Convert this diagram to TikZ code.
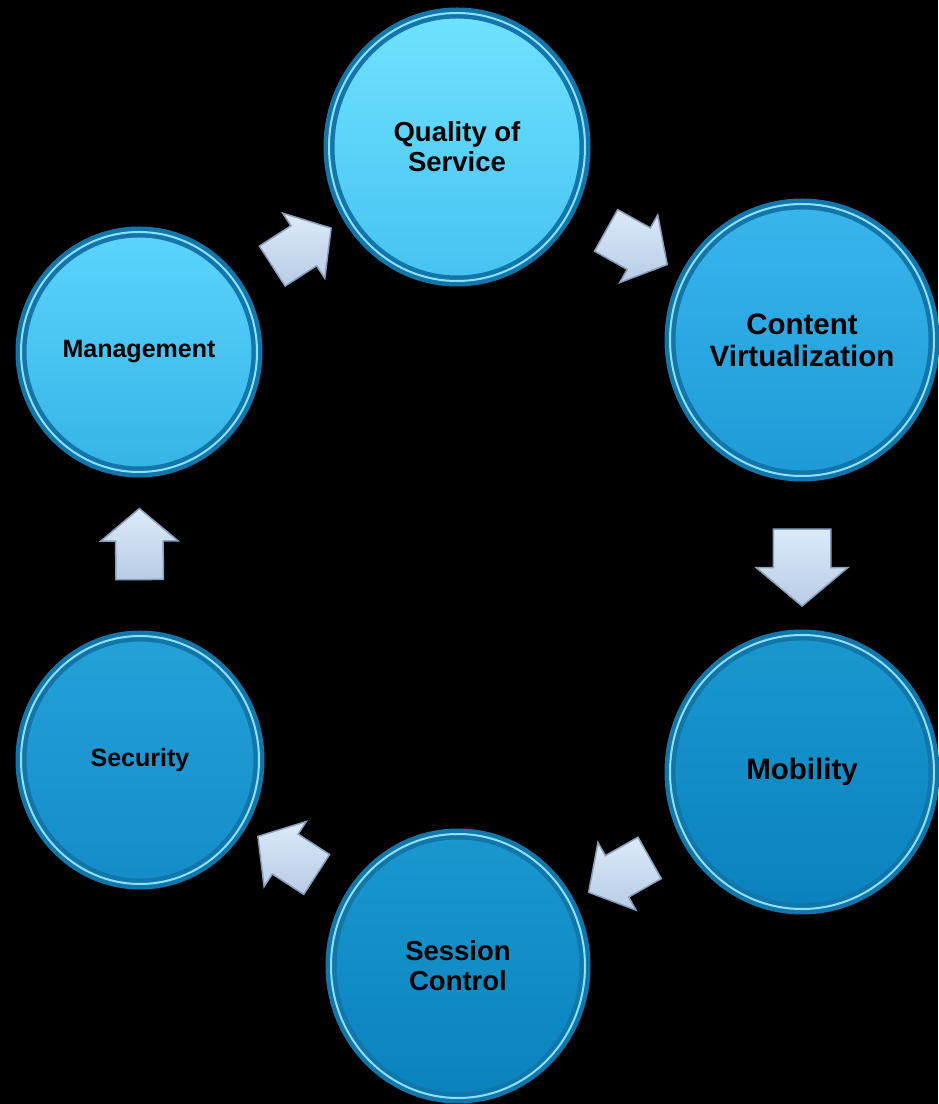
\documentclass[tikz,border=0pt]{standalone}
\usepackage{fontspec}
\setsansfont{Liberation Sans}
\usepackage{tikz}
\usetikzlibrary{shapes,arrows}
\definecolor{ringdark}{RGB}{18,118,170}
\definecolor{ringlight}{RGB}{140,226,252}
\definecolor{arrowtop}{RGB}{220,234,250}
\definecolor{arrowbottom}{RGB}{184,204,228}
\definecolor{arrowedge}{RGB}{138,160,188}
\definecolor{qualitytop}{RGB}{112,226,255}
\definecolor{qualitybottom}{RGB}{70,194,240}
\definecolor{managetop}{RGB}{92,212,252}
\definecolor{managebottom}{RGB}{52,180,230}
\definecolor{contenttop}{RGB}{56,182,236}
\definecolor{contentbottom}{RGB}{30,154,214}
\definecolor{securitytop}{RGB}{36,162,216}
\definecolor{securitybottom}{RGB}{20,140,200}
\definecolor{mobilitytop}{RGB}{26,152,206}
\definecolor{mobilitybottom}{RGB}{10,130,190}
\tikzstyle{cyclenode} = [ellipse, draw = ringdark, double = ringlight, double distance = 2pt, line width = 4.5pt, inner sep = 0pt, align = center, text = black]
\tikzstyle{smalltext} = [font = \sffamily\bfseries\fontsize{25}{30}\selectfont]
\tikzstyle{midtext} = [font = \sffamily\bfseries\fontsize{27.5}{30}\selectfont]
\tikzstyle{largetext} = [font = \sffamily\bfseries\fontsize{29.5}{32}\selectfont]
\tikzstyle{flowarrow} = [single arrow, draw = arrowedge, line width = 1.5pt, top color = arrowtop, bottom color = arrowbottom, inner xsep = 0pt, inner ysep = 23pt, single arrow head extend = 15pt, single arrow tip angle = 100, minimum height = 70pt, sloped, allow upside down]

\begin{document}
\begin{tikzpicture}[x = 1pt, y = 1pt]
\tikzstyle{every node}=[font=\sffamily\bfseries];
\fill [black] (0,0) rectangle (938,1104);
\useasboundingbox (0,0) rectangle (938,1104);
\node [cyclenode, midtext, top color = qualitytop, bottom color = qualitybottom, minimum width = 256pt, minimum height = 268pt] (quality) at (457,957) {Quality of\\Service};
\node [cyclenode, largetext, top color = contenttop, bottom color = contentbottom, minimum width = 264pt, minimum height = 272pt] (content) at (802,764) {Content\\Virtualization};
\node [cyclenode, largetext, top color = mobilitytop, bottom color = mobilitybottom, minimum width = 264pt, minimum height = 274pt] (mobility) at (802,332) {Mobility};
\node [cyclenode, midtext, top color = mobilitytop, bottom color = mobilitybottom, minimum width = 254pt, minimum height = 264pt] (session) at (458,138) {Session\\Control};
\node [cyclenode, smalltext, top color = securitytop, bottom color = securitybottom, minimum width = 238pt, minimum height = 248pt] (security) at (140,344) {Security};
\node [cyclenode, smalltext, top color = managetop, bottom color = managebottom, minimum width = 236pt, minimum height = 240pt] (manage) at (139,752) {Management};
% block arrows round the cycle
\path (manage) -- node [flowarrow] {} (quality);
\path (quality) -- node [flowarrow] {} (content);
\path (content) -- node [flowarrow, inner ysep = 28pt, single arrow head extend = 17pt, minimum height = 77pt] {} (mobility);
\path (mobility) -- node [flowarrow] {} (session);
\path (session) -- node [flowarrow] {} (security);
\path (security) -- node [flowarrow, inner ysep = 23pt, single arrow head extend = 15pt, minimum height = 71pt] {} (manage);
\end{tikzpicture}
\end{document}
